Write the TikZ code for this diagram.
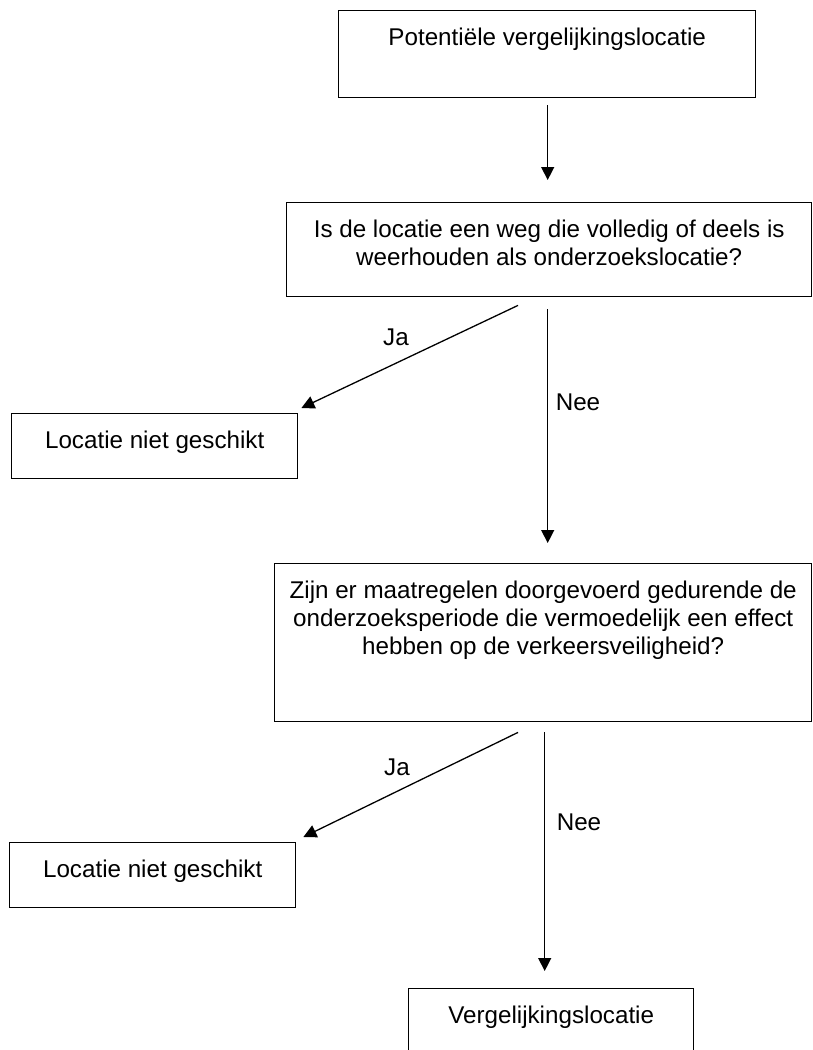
\documentclass[tikz,border=0pt]{standalone}
\usepackage{fontspec}
\setmainfont{Liberation Sans}
\usetikzlibrary{arrows.meta}
\begin{document}
\begin{tikzpicture}[x=1pt,y=-1pt,
  box/.style={draw=black,line width=1.4pt,rectangle,inner sep=0pt,anchor=north west},
  txt/.style={anchor=north,align=center,inner sep=0pt,font=\fontsize{24.2}{28}\selectfont},
  lbl/.style={inner sep=0pt,font=\fontsize{24.2}{28}\selectfont},
  arr/.style={line width=1.3pt,-{Triangle[length=13pt,width=13pt]}}]
\useasboundingbox (0,0) rectangle (812,1050);
% boxes
\node[box,minimum width=417pt,minimum height=87pt] (b1) at (338,10) {};
\node[box,minimum width=525pt,minimum height=94pt] (b2) at (286,202) {};
\node[box,minimum width=286pt,minimum height=65pt] (b3) at (11,413) {};
\node[box,minimum width=537pt,minimum height=158pt] (b4) at (274,563) {};
\node[box,minimum width=286pt,minimum height=65pt] (b5) at (9,842) {};
\node[box,minimum width=285pt,minimum height=80pt] (b6) at (408,988) {};
% texts
\node[txt] (t1) at ([yshift=-15pt]b1.north) {\rule{0pt}{20pt}Potentiële vergelijkingslocatie};
\node[txt] (t2) at ([yshift=-15pt]b2.north) {\rule{0pt}{20pt}Is de locatie een weg die volledig of deels is\\weerhouden als onderzoekslocatie?};
\node[txt] (t3) at ([yshift=-15pt]b3.north) {\rule{0pt}{20pt}Locatie niet geschikt};
\node[txt] (t4) at ([yshift=-15pt]b4.north) {\rule{0pt}{20pt}Zijn er maatregelen doorgevoerd gedurende de\\onderzoeksperiode die vermoedelijk een effect\\hebben op de verkeersveiligheid?};
\node[txt] (t5) at ([yshift=-15pt]b5.north) {\rule{0pt}{20pt}Locatie niet geschikt};
\node[txt] (t6) at ([yshift=-15pt]b6.north) {\rule{0pt}{20pt}Vergelijkingslocatie};
% connectors
\draw[arr] ([shift={(0.5,7)}]b1.south) -- ([shift={(0.5,-22)}]b1.south |- b2.north);
\draw[arr] ([shift={(232,8)}]b2.south west) -- ([shift={(3,-5)}]b3.north east);
\draw[arr] ([shift={(-1.5,12)}]b2.south) -- ([shift={(-1.5,-20)}]b2.south |- b4.north);
\draw[arr] ([shift={(244,10)}]b4.south west) -- ([shift={(7,-5)}]b5.north east);
\draw[arr] ([shift={(1.5,10)}]b4.south) -- ([shift={(1.5,-17)}]b4.south |- b6.north);
% labels
\node[lbl] (ja1) at (396,337) {Ja};
\node[lbl] (nee1) at (578,402) {Nee};
\node[lbl] (ja2) at (397,767) {Ja};
\node[lbl] (nee2) at (579,822) {Nee};
\end{tikzpicture}
\end{document}
